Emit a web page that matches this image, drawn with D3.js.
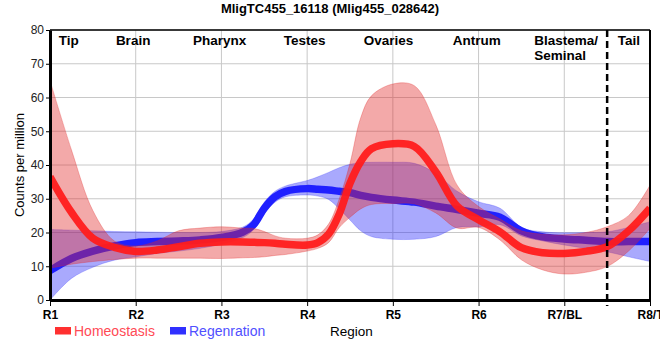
<!DOCTYPE html>
<html>
<head>
<meta charset="utf-8">
<script src="https://cdn.jsdelivr.net/npm/d3@7"></script>
<style>
  body { margin: 0; background: #fff; }
  svg { display: block; font-family: Arial, "Liberation Sans", sans-serif; }
</style>
</head>
<body>
<div id="container"></div>
<script>
/* DATA */
const title = "MligTC455_16118 (Mlig455_028642)";
const regions = ["R1", "R2", "R3", "R4", "R5", "R6", "R7/BL", "R8/T"];
const tissues = ["Tip", "Brain", "Pharynx", "Testes", "Ovaries", "Antrum", "Blastema/|Seminal", "Tail"];
const yTicks = [0, 10, 20, 30, 40, 50, 60, 70, 80];

// sample positions along the region axis (0 = R1 ... 7 = R8/T)
const pos = [0, 0.25, 0.5, 0.75, 1, 1.25, 1.5, 1.75, 2, 2.25, 2.375, 2.5, 2.625, 2.75, 3, 3.125, 3.25,
             3.375, 3.5, 3.625, 3.75, 4, 4.25, 4.5, 4.75, 5, 5.25, 5.5, 5.75, 6, 6.25, 6.5, 6.75, 7];

// Homeostasis
const homeoMean = [36.5, 26, 18.3, 15.6, 14.4, 14.8, 15.8, 16.8, 17.2, 17.2, 17.1, 17.0, 16.8, 16.5, 16.3, 17.0, 19.5,
                   25.5, 34.6, 41, 44.8, 46.3, 45.5, 38, 27.8, 23.8, 20.2, 15.5, 14.0, 13.8, 14.4, 15.8, 20.5, 27.2];
const homeoHigh = [65, 44.5, 26.5, 17.5, 16, 17.5, 20.5, 21.3, 21.7, 21.3, 21.2, 20.3, 19, 18.3, 18.3, 19.3, 22.5,
                   30, 40.5, 54, 60.5, 64, 63.5, 52, 34, 27.7, 24, 20.5, 19.5, 19.3, 20, 21.7, 25, 34];
const homeoLow = [9.4, 10.6, 11.4, 12, 12.4, 12.4, 12.4, 12.4, 12.3, 12.5, 12.6, 12.8, 13.2, 13.5, 14.5, 15.3, 17,
                  21.5, 24.5, 27, 28.3, 28.6, 28.5, 25.8, 21.3, 21.5, 17.8, 11.9, 8.9, 7.7, 8.2, 9.9, 14.5, 21.2];

// Regenration
const regenMean = [8.7, 12.3, 14.5, 16.0, 17.0, 17.3, 17.5, 17.8, 18.5, 20.1, 22.3, 27.2, 30.6, 32.2, 33.0, 32.8, 32.6,
                   32.2, 31.8, 31.0, 30.4, 29.6, 29.0, 27.8, 26.8, 25.7, 24.5, 20.5, 18.7, 18.1, 17.7, 17.3, 17.3, 17.3];
const regenHigh = [20.9, 20.7, 20.5, 20.3, 20.2, 20.1, 20, 20, 20.3, 21.6, 24, 29, 32.2, 33.8, 35.4, 36.5, 37.8,
                   39.2, 40.2, 40.7, 40.8, 40.8, 40.5, 37.5, 32.2, 29.1, 27.2, 21.5, 20.2, 19.9, 20, 20.2, 21.5, 23.2];
const regenLow = [0, 6.4, 9.7, 11.8, 12.8, 13.8, 14.5, 15.3, 16.6, 18.5, 20.8, 25.5, 29, 30.6, 31.1, 30.8, 29.8,
                  27, 23.7, 20.5, 18.8, 18, 18, 18.8, 21.5, 21.7, 22.3, 19, 17.5, 16.3, 15.3, 14.3, 12.8, 11.4];

const boundary = 6.5; // dashed line between R7/BL and R8/T

/* LAYOUT */
const width = 660, height = 360,
      margin = { top: 30, right: 10, bottom: 60, left: 50 };

const svg = d3.select("#container")
  .append("svg")
  .attr("width", width)
  .attr("height", height);

const x = d3.scaleLinear().domain([0, regions.length - 1]).range([margin.left, width - margin.right]);
const y = d3.scaleLinear().domain([0, 80]).range([height - margin.bottom, margin.top]);

const x0 = x.range()[0], x1 = x.range()[1], y0 = y.range()[0], y1 = y.range()[1];

// grid
svg.append("g")
  .selectAll("line.h")
  .data(yTicks)
  .join("line")
  .attr("x1", x0).attr("x2", x1)
  .attr("y1", d => y(d)).attr("y2", d => y(d))
  .attr("stroke", "#c8c8c8").attr("stroke-width", 1);

svg.append("g")
  .selectAll("line.v")
  .data(regions)
  .join("line")
  .attr("x1", (d, i) => x(i)).attr("x2", (d, i) => x(i))
  .attr("y1", y0).attr("y2", y1)
  .attr("stroke", "#c8c8c8").attr("stroke-width", 1);

// clip for the series
svg.append("clipPath").attr("id", "plot")
  .append("rect")
  .attr("x", x0).attr("y", y1)
  .attr("width", x1 - x0).attr("height", y0 - y1);

const series = svg.append("g").attr("clip-path", "url(#plot)");

const curve = d3.curveCatmullRom.alpha(0.5);
const band = (hi, lo) => d3.area()
  .x((d, i) => x(pos[i]))
  .y0((d, i) => y(lo[i]))
  .y1((d, i) => y(hi[i]))
  .curve(curve)(pos);
const line = vals => d3.line()
  .x((d, i) => x(pos[i]))
  .y(d => y(d))
  .curve(curve)(vals);

// regeneration band + mean (drawn first, red band sits on top)
series.append("path")
  .attr("d", band(regenHigh, regenLow))
  .attr("fill", "rgb(40,40,250)").attr("fill-opacity", 0.4)
  .attr("stroke", "rgb(40,40,250)").attr("stroke-opacity", 0.25);

series.append("path")
  .attr("d", line(regenMean))
  .attr("fill", "none")
  .attr("stroke", "#2020ff")
  .attr("stroke-width", 7.5);

// homeostasis band + mean
series.append("path")
  .attr("d", band(homeoHigh, homeoLow))
  .attr("fill", "rgb(225,40,40)").attr("fill-opacity", 0.4)
  .attr("stroke", "rgb(225,40,40)").attr("stroke-opacity", 0.3);

series.append("path")
  .attr("d", line(homeoMean))
  .attr("fill", "none")
  .attr("stroke", "#ff1c1c")
  .attr("stroke-opacity", 0.95)
  .attr("stroke-width", 7.5);

// frame: thin top and right, thick left and bottom
svg.append("line").attr("x1", x0).attr("x2", x1).attr("y1", y1).attr("y2", y1)
  .attr("stroke", "#000").attr("stroke-width", 1.5);
svg.append("line").attr("x1", x1).attr("x2", x1).attr("y1", y1).attr("y2", y0)
  .attr("stroke", "#000").attr("stroke-width", 2);

// dashed boundary
svg.append("line")
  .attr("x1", x(boundary)).attr("x2", x(boundary))
  .attr("y1", y1).attr("y2", y0 + 6)
  .attr("stroke", "#000").attr("stroke-width", 2.5)
  .attr("stroke-dasharray", "7,4");

// axes
const xAxis = d3.axisBottom(x)
  .tickValues(d3.range(regions.length))
  .tickFormat(i => regions[i])
  .tickSize(6).tickSizeOuter(0);

const gx = svg.append("g")
  .attr("transform", `translate(0,${y0})`)
  .call(xAxis);
gx.select(".domain").attr("stroke-width", 3);
gx.selectAll(".tick line").attr("stroke-width", 1);
gx.selectAll(".tick text")
  .attr("y", 10)
  .attr("fill", "#000")
  .style("font-size", "12px")
  .style("font-weight", "bold");

const yAxis = d3.axisLeft(y)
  .tickValues(yTicks)
  .tickSize(4).tickSizeOuter(0);

const gy = svg.append("g")
  .attr("transform", `translate(${x0},0)`)
  .call(yAxis);
gy.select(".domain").attr("stroke-width", 3);
gy.selectAll(".tick text")
  .attr("x", -6)
  .attr("fill", "#222")
  .style("font-size", "12px");

// tissue labels along the top
const tissueAt = [0.22, 0.97, 1.98, 2.97, 3.95, 4.98, 5.65, 6.755];
tissues.forEach((t, i) => {
  const parts = t.split("|");
  const txt = svg.append("text")
    .attr("x", x(tissueAt[i]))
    .attr("y", y1 + 15)
    .attr("text-anchor", parts.length > 1 ? "start" : "middle")
    .style("font-size", "13.5px")
    .style("font-weight", "bold");
  parts.forEach((p, k) => {
    txt.append("tspan")
      .attr("x", x(tissueAt[i]))
      .attr("dy", k === 0 ? 0 : 15)
      .text(p);
  });
});

// title
svg.append("text")
  .attr("x", width / 2)
  .attr("y", 13)
  .attr("text-anchor", "middle")
  .style("font-size", "13px")
  .style("font-weight", "bold")
  .text(title);

// axis titles
svg.append("text")
  .attr("transform", `translate(24,${(y0 + y1) / 2}) rotate(-90)`)
  .attr("text-anchor", "middle")
  .style("font-size", "13px")
  .text("Counts per million");

svg.append("text")
  .attr("x", 330)
  .attr("y", 336)
  .style("font-size", "13.5px")
  .text("Region");

// legend
const legend = [
  { name: "Homeostasis", swatch: "#ff3030", text: "#ff4a55", lx: 55 },
  { name: "Regenration", swatch: "#3030ff", text: "#5050ff", lx: 170 }
];
legend.forEach(l => {
  svg.append("rect")
    .attr("x", l.lx).attr("y", 327)
    .attr("width", 16).attr("height", 7.5)
    .attr("fill", l.swatch);
  svg.append("text")
    .attr("x", l.lx + 19).attr("y", 336)
    .attr("fill", l.text)
    .style("font-size", "14px")
    .text(l.name);
});
</script>
</body>
</html>
